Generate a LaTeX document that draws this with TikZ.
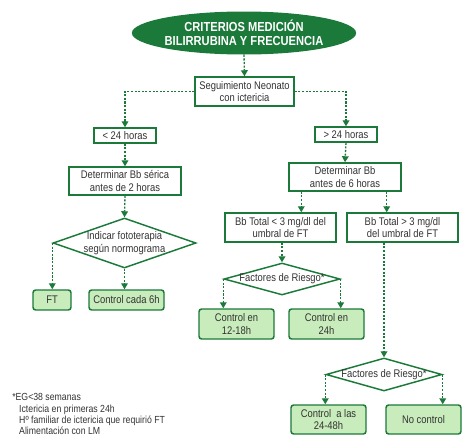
\documentclass[tikz,border=0pt]{standalone}
\usepackage{fontspec}
\setmainfont{Liberation Sans}[FakeStretch=0.85]
\usetikzlibrary{shapes.geometric,arrows.meta,calc}
\definecolor{dg}{HTML}{1B7A3A}
\definecolor{lg}{HTML}{C8ECBB}
\definecolor{tx}{HTML}{333333}
\def\pxu{0.75pt}
\begin{document}
\begin{tikzpicture}[x=0.75pt,y=-0.75pt,
  box/.style={draw=dg,line width=1.1pt,fill=white,text=tx,align=center,inner sep=0pt,
    font=\fontsize{8.3}{9.2}\selectfont},
  leaf/.style={box,fill=lg,rounded corners=2pt},
  dia/.style={box,diamond,inner sep=-2.5pt},
  arr/.style={draw=dg,line width=1pt,dash pattern=on 1.6pt off 1.1pt,-{Triangle[length=4.5pt,width=5pt]}}]
\useasboundingbox (0,0) rectangle (474,447);
\node[ellipse,fill=dg,text=white,align=center,minimum width=202*\pxu,minimum height=43*\pxu,inner sep=0pt,
  font=\fontsize{9.8}{10.5}\selectfont\bfseries] (title) at (244,33) {CRITERIOS MEDICIÓN\\BILIRRUBINA Y FRECUENCIA};
\node[box,minimum width=99*\pxu,minimum height=29*\pxu] (seg) at (244.5,91.5) {Seguimiento Neonato\\con ictericia};
\node[box,minimum width=62*\pxu,minimum height=15*\pxu] (lt24) at (125,135.5) {< 24 horas};
\node[box,minimum width=62*\pxu,minimum height=15*\pxu] (gt24) at (346,134.5) {> 24 horas};
\node[box,minimum width=112*\pxu,minimum height=28*\pxu] (det2) at (125,181) {Determinar Bb sérica\\antes de 2 horas};
\node[dia,aspect=2.86,minimum width=143*\pxu,minimum height=50*\pxu] (dia1) at (124.5,243) {Indicar fototerapia\\según normograma};
\node[leaf,minimum width=38*\pxu,minimum height=20*\pxu] (ft) at (52,300) {FT};
\node[leaf,minimum width=75*\pxu,minimum height=20*\pxu] (c6) at (126.5,300) {Control cada 6h};
\node[box,minimum width=112*\pxu,minimum height=28*\pxu] (det6) at (345,177) {Determinar Bb\\antes de 6 horas};
\node[box,minimum width=111*\pxu,minimum height=29*\pxu] (bblt) at (280.5,227.5) {Bb Total < 3 mg/dl del\\umbral de FT};
\node[box,minimum width=111*\pxu,minimum height=29*\pxu] (bbgt) at (402.5,227.5) {Bb Total > 3 mg/dl\\del umbral de FT};
\node[dia,aspect=3.5,minimum width=116*\pxu,minimum height=32*\pxu] (dia2) at (282,279) {Factores de Riesgo*};
\node[leaf,minimum width=75*\pxu,minimum height=30*\pxu] (c1218) at (236.5,324) {Control en\\12-18h};
\node[leaf,minimum width=75*\pxu,minimum height=30*\pxu] (c24) at (326.5,324) {Control en\\24h};
\node[dia,aspect=3.5,minimum width=116*\pxu,minimum height=33*\pxu] (dia3) at (384,374.5) {Factores de Riesgo*};
\node[leaf,minimum width=75*\pxu,minimum height=29*\pxu] (c2448) at (328.5,419.5) {Control\ \ a las\\24-48h};
\node[leaf,minimum width=75*\pxu,minimum height=29*\pxu] (noc) at (423.5,419.5) {No control};
\node[anchor=north west,align=left,text=tx,inner sep=0pt,font=\fontsize{7.7}{8.3}\selectfont] (note) at (12,393.5)
  {*EG<38 semanas\\\hspace*{5.2pt}Ictericia en primeras 24h\\\hspace*{5.2pt}Hº familiar de ictericia que requirió FT\\\hspace*{5.2pt}Alimentación con LM};
\coordinate (d6a) at ($(det6.south west)+(13,0)$);
\coordinate (d6b) at ($(det6.south east)+(-15,0)$);
% connectors
\draw[arr] (title.south) -- (seg.north);
\draw[arr] (seg.west) -| (lt24.north);
\draw[arr] (seg.east) -| (gt24.north);
\draw[arr] (lt24.south) -- (det2.north);
\draw[arr] (det2.south) -- (dia1.north);
\draw[arr] (dia1.west) -- (dia1.west |- ft.north);
\draw[arr] (dia1.south) -- (dia1.south |- c6.north);
\draw[arr] (gt24.south) -- (det6.north);
\draw[arr] (d6a) -- (d6a |- bblt.north);
\draw[arr] (d6b) -- (d6b |- bbgt.north);
\draw[arr] (dia2.north |- bblt.south) -- (dia2.north);
\draw[arr] (dia2.west) -- (dia2.west |- c1218.north);
\draw[arr] (dia2.east) -- (dia2.east |- c24.north);
\draw[arr] (dia3.north |- bbgt.south) -- (dia3.north);
\draw[arr] (dia3.west) -- (dia3.west |- c2448.north);
\draw[arr] (dia3.east) -- (dia3.east |- noc.north);
\end{tikzpicture}
\end{document}
